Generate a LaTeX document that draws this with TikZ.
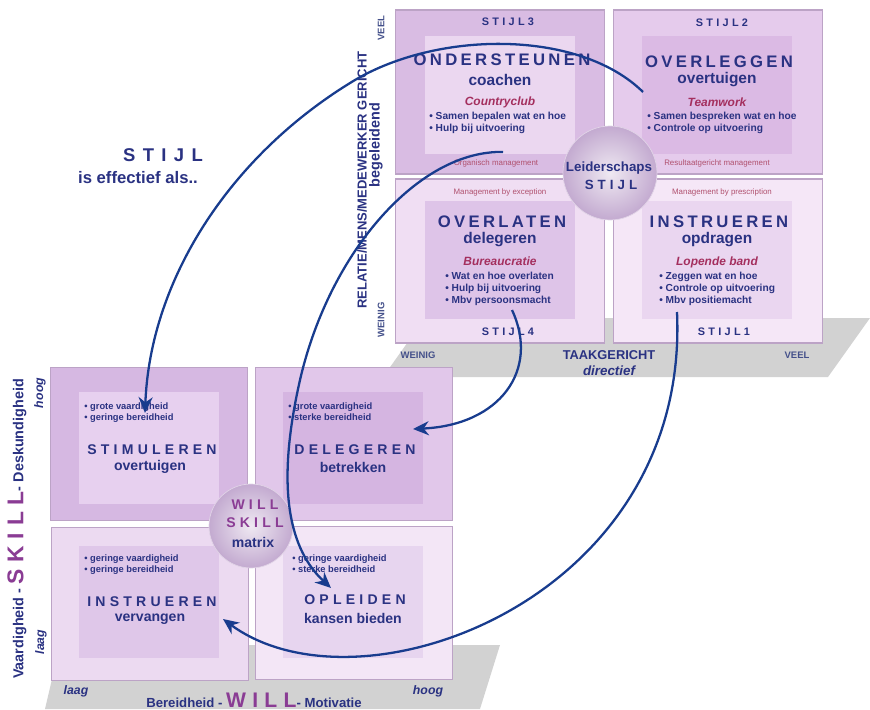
\documentclass[tikz,border=0pt]{standalone}
\usepackage{fontspec}
\setmainfont{Liberation Sans}
\newfontfamily\spaceda[LetterSpace=20]{Liberation Sans}
\newfontfamily\spacedb[LetterSpace=30]{Liberation Sans}
\newfontfamily\spacedc[LetterSpace=40]{Liberation Sans}
\usepackage{tikz}
\usetikzlibrary{arrows.meta,calc}

\definecolor{navy}{HTML}{2A3282}
\definecolor{axisblue}{HTML}{44508A}
\definecolor{arrowblue}{HTML}{183C8E}
\definecolor{wine}{HTML}{A42F5E}
\definecolor{mgmtred}{HTML}{B0506E}
\definecolor{plum}{HTML}{8A3C94}
\definecolor{boxline}{HTML}{BCA3C6}
\definecolor{floorgray}{HTML}{D2D2D2}
\definecolor{hubin}{HTML}{EFE9F2}
\definecolor{hubout}{HTML}{C3AAD0}
\definecolor{stthreeA}{HTML}{D9BCE3}
\definecolor{stthreeB}{HTML}{EBD7F0}
\definecolor{sttwoA}{HTML}{E5CBEC}
\definecolor{sttwoB}{HTML}{DBBAE4}
\definecolor{stfourA}{HTML}{F0DEF3}
\definecolor{stfourB}{HTML}{DEC4E8}
\definecolor{stoneA}{HTML}{F5E7F7}
\definecolor{stoneB}{HTML}{EAD6F0}
\definecolor{stimA}{HTML}{D6B8E2}
\definecolor{stimB}{HTML}{E7D0EF}
\definecolor{delA}{HTML}{E1C7EA}
\definecolor{delB}{HTML}{D5B5E1}
\definecolor{instrA}{HTML}{ECDAF1}
\definecolor{instrB}{HTML}{DFC7E9}
\definecolor{oplA}{HTML}{F3E6F6}
\definecolor{oplB}{HTML}{E7D5EF}

\newcommand\fsz[2]{\fontsize{#1}{#2}\selectfont}

\begin{document}
\begin{tikzpicture}[x=0.02cm, y=-0.02cm,
    bigbox/.style={draw=boxline, line width=0.6pt, inner sep=0pt,
                   minimum width=4.18cm, minimum height=3.28cm},
    wmbox/.style={draw=boxline, line width=0.6pt, inner sep=0pt,
                  minimum width=3.94cm, minimum height=3.06cm},
    core/.style={inner sep=0pt, minimum width=3cm, minimum height=2.36cm},
    wmcore/.style={inner sep=0pt, minimum width=2.82cm, minimum height=2.24cm},
    stijlno/.style={text=navy, font=\spacedb\bfseries\fsz{6.2}{7}},
    headtop/.style={text=navy, font=\spaceda\bfseries\fsz{9.5}{11}},
    subtop/.style={text=navy, font=\bfseries\fsz{8.8}{10}},
    kind/.style={text=wine, font=\bfseries\itshape\fsz{6.8}{8}},
    points/.style={text=navy, font=\bfseries\fsz{5.8}{6.9}, align=left,
                   anchor=north west, inner sep=0pt},
    mgmt/.style={text=mgmtred, font=\fsz{4.5}{5}},
    headwm/.style={text=navy, font=\spacedb\bfseries\fsz{8}{9}},
    subwm/.style={text=navy, font=\bfseries\fsz{8}{9}},
    wmpoints/.style={text=navy, font=\bfseries\fsz{5.3}{6.3}, align=left,
                     anchor=north west, inner sep=0pt},
    axis/.style={text=axisblue, font=\bfseries\fsz{5.4}{6}},
    hilo/.style={text=navy, font=\bfseries\itshape\fsz{7}{8}},
    hub/.style={circle, shading=radial, inner color=hubin, outer color=hubout,
                draw=white!50!hubout, line width=0.4pt},
    flow/.style={arrowblue, line width=1.3pt, -{Stealth[length=9pt,width=8pt]}}
  ]
  \useasboundingbox (0,0) rectangle (870,710);

  % floors
  \fill[floorgray] (383,377) -- (828,377) -- (870,318) -- (425,318) -- cycle;
  \fill[floorgray] (45,709) -- (480,709) -- (500,645) -- (60,645) -- cycle;

  % leadership style matrix
  \node[bigbox, fill=stthreeA] (s3) at (500,92) {};
  \node[core, fill=stthreeB] (s3c) at (500,95) {};
  \node[bigbox, fill=sttwoA] (s2) at (718,92) {};
  \node[core, fill=sttwoB] (s2c) at (717,95) {};
  \node[bigbox, fill=stfourA] (s4) at (500,261) {};
  \node[core, fill=stfourB] (s4c) at (500,260) {};
  \node[bigbox, fill=stoneA] (s1) at (718,261) {};
  \node[core, fill=stoneB] (s1c) at (717,260) {};

  % stijl 3
  \node[stijlno] (s3no) at (508,22) {STIJL3};
  \node[headtop] (s3head) at (502,60) {ONDERSTEUNEN};
  \node[subtop] (s3sub) at (500,80) {coachen};
  \node[kind] (s3kind) at (500,102) {Countryclub};
  \node[points] (s3pts) at (429,112) {• Samen bepalen wat en hoe\\• Hulp bij uitvoering};
  \node[mgmt] (s3mg) at (496,163) {Organisch management};

  % stijl 2
  \node[stijlno] (s2no) at (722,23) {STIJL2};
  \node[headtop] (s2head) at (719,62) {OVERLEGGEN};
  \node[subtop] (s2sub) at (717,80) {overtuigen};
  \node[kind] (s2kind) at (717,102) {Teamwork};
  \node[points] (s2pts) at (647,112) {• Samen bespreken wat en hoe\\• Controle op uitvoering};
  \node[mgmt] (s2mg) at (717,163) {Resultaatgericht management};

  % stijl 4
  \node[mgmt] (s4mg) at (500,192) {Management by exception};
  \node[headtop] (s4head) at (502,222) {OVERLATEN};
  \node[subtop] (s4sub) at (500,240) {delegeren};
  \node[kind] (s4kind) at (500,261) {Bureaucratie};
  \node[points] (s4pts) at (445,272) {• Wat en hoe overlaten\\• Hulp bij uitvoering\\• Mbv persoonsmacht};
  \node[stijlno] (s4no) at (508,332) {STIJL4};

  % stijl 1
  \node[mgmt] (s1mg) at (722,192) {Management by prescription};
  \node[headtop] (s1head) at (719,222) {INSTRUEREN};
  \node[subtop] (s1sub) at (717,240) {opdragen};
  \node[kind] (s1kind) at (717,262) {Lopende band};
  \node[points] (s1pts) at (659,272) {• Zeggen wat en hoe\\• Controle op uitvoering\\• Mbv positiemacht};
  \node[stijlno] (s1no) at (724,332) {STIJL1};

  % axes of the style matrix
  \node[axis, rotate=90] (veelv) at (381,28) {VEEL};
  \node[axis, rotate=90] (weinigv) at (381,320) {WEINIG};
  \node[text=navy, font=\bfseries\fsz{7.4}{8}, rotate=90] (relatie) at (362,180) {RELATIE/MENS/MEDEWERKER GERICHT};
  \node[text=navy, font=\bfseries\fsz{8.2}{9}, rotate=90] (begel) at (376,145) {begeleidend};
  \node[axis] (weinigh) at (418,355) {WEINIG};
  \node[text=navy, font=\bfseries\fsz{7.3}{8}] (taak) at (609,355) {TAAKGERICHT};
  \node[text=navy, font=\bfseries\itshape\fsz{7.6}{8}] (direct) at (609,371) {directief};
  \node[axis] (veelh) at (797,355) {VEEL};

  % will skill matrix
  \node[wmbox, fill=stimA] (wm1) at (149,444) {};
  \node[wmcore, fill=stimB] (wm1c) at (149,448) {};
  \node[wmbox, fill=delA] (wm2) at (354,444) {};
  \node[wmcore, fill=delB] (wm2c) at (353,448) {};
  \node[wmbox, fill=instrA] (wm3) at (150,604) {};
  \node[wmcore, fill=instrB] (wm3c) at (149,602) {};
  \node[wmbox, fill=oplA] (wm4) at (354,603) {};
  \node[wmcore, fill=oplB] (wm4c) at (353,602) {};

  \node[wmpoints] (wm1pts) at (84,402) {• grote vaardigheid\\• geringe bereidheid};
  \node[headwm] (wm1head) at (152,450) {STIMULEREN};
  \node[subwm] (wm1sub) at (150,467) {overtuigen};
  \node[wmpoints] (wm2pts) at (288,402) {• grote vaardigheid\\• sterke bereidheid};
  \node[headwm] (wm2head) at (355,450) {DELEGEREN};
  \node[subwm] (wm2sub) at (353,467) {betrekken};
  \node[wmpoints] (wm3pts) at (84,554) {• geringe vaardigheid\\• geringe bereidheid};
  \node[headwm] (wm3head) at (152,602) {INSTRUEREN};
  \node[subwm] (wm3sub) at (150,619) {vervangen};
  \node[wmpoints] (wm4pts) at (292,554) {• geringe vaardigheid\\• sterke bereidheid};
  \node[headwm] (wm4head) at (355,600) {OPLEIDEN};
  \node[subwm] (wm4sub) at (353,618) {kansen bieden};

  % axes of the will skill matrix
  \node[text=navy, font=\bfseries\fsz{8.2}{9}, rotate=90] (skillaxis) at (17,529)
    {Vaardigheid - {\spacedb\fsz{13}{14}\color{plum}SKILL}- Deskundigheid};
  \node[hilo, rotate=90] (hoogv) at (40,393) {hoog};
  \node[hilo, rotate=90] (laagv) at (41,642) {laag};
  \node[text=navy, font=\bfseries\fsz{7.5}{9}] (willaxis) at (254,700)
    {Bereidheid - {\spacedb\fsz{12}{13}\color{plum}WILL}- Motivatie};
  \node[hilo] (laagh) at (76,691) {laag};
  \node[hilo] (hoogh) at (428,691) {hoog};

  % hubs
  \node[hub, minimum size=1.88cm] (lead) at (610,173) {};
  \node[text=navy, font=\bfseries\fsz{7.6}{9}] (leadtxt) at (609,168) {Leiderschaps};
  \node[text=navy, font=\spacedb\bfseries\fsz{7.6}{9}] (leadstijl) at (611,185) {STIJL};
  \node[hub, minimum size=1.68cm] (wsm) at (251,526) {};
  \node[text=plum, font=\spacedb\bfseries\fsz{8}{9}] (willtxt) at (255,505) {WILL};
  \node[text=plum, font=\spacedb\bfseries\fsz{8}{9}] (skilltxt) at (255,523) {SKILL};
  \node[text=navy, font=\bfseries\fsz{8}{9}] (matrixtxt) at (253,542) {matrix};

  % heading left
  \node[text=navy, font=\spacedc\bfseries\fsz{10.5}{12}] (stijlbig) at (163,155) {STIJL};
  \node[text=navy, font=\bfseries\fsz{9.5}{11}] (effectief) at (138,178) {is effectief als..};

  % arrows
  \coordinate (a1s) at (643,92);
  \coordinate (a1m) at (355,80);
  \coordinate (a1e) at (145,413);
  \draw[flow] (a1s) .. controls (580,30) and (440,30) .. (a1m)
              .. controls (230,155) and (150,280) .. (a1e);
  \coordinate (a2s) at (503,152);
  \coordinate (a2m) at (300,380);
  \coordinate (a2e) at (331,588);
  \draw[flow] (a2s) .. controls (420,150) and (330,250) .. (a2m)
              .. controls (275,490) and (290,550) .. (a2e);
  \coordinate (a3s) at (512,310);
  \coordinate (a3e) at (413,429);
  \draw[flow] (a3s) .. controls (540,370) and (500,425) .. (a3e);
  \coordinate (a4s) at (677,312);
  \coordinate (a4e) at (223,619);
  \draw[flow] (a4s) .. controls (690,600) and (360,720) .. (a4e);
\end{tikzpicture}
\end{document}
